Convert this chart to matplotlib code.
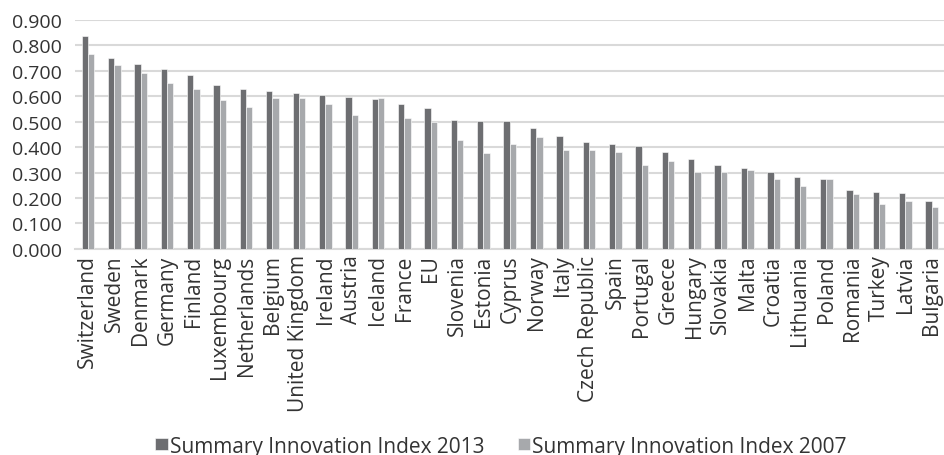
import numpy as np
import matplotlib.pyplot as plt

plt.rcParams['font.family'] = ['Open Sans', 'DejaVu Sans']

countries = ['Switzerland', 'Sweden', 'Denmark', 'Germany', 'Finland', 'Luxembourg',
             'Netherlands', 'Belgium', 'United Kingdom', 'Ireland', 'Austria', 'Iceland',
             'France', 'EU', 'Slovenia', 'Estonia', 'Cyprus', 'Norway', 'Italy',
             'Czech Republic', 'Spain', 'Portugal', 'Greece', 'Hungary', 'Slovakia',
             'Malta', 'Croatia', 'Lithuania', 'Poland', 'Romania', 'Turkey', 'Latvia',
             'Bulgaria']
sii_2013 = [0.837, 0.750, 0.725, 0.709, 0.684, 0.646, 0.629, 0.619, 0.613, 0.606, 0.599,
            0.588, 0.571, 0.554, 0.508, 0.502, 0.501, 0.477, 0.443, 0.422, 0.414, 0.406,
            0.380, 0.354, 0.328, 0.319, 0.302, 0.282, 0.275, 0.233, 0.225, 0.221, 0.188]
sii_2007 = [0.766, 0.723, 0.691, 0.654, 0.627, 0.585, 0.558, 0.594, 0.594, 0.568, 0.527,
            0.594, 0.516, 0.500, 0.428, 0.377, 0.413, 0.439, 0.387, 0.387, 0.379, 0.329,
            0.347, 0.302, 0.301, 0.311, 0.276, 0.249, 0.275, 0.215, 0.177, 0.187, 0.163]

fig = plt.figure(figsize=(9.45, 4.56), dpi=100)
ax = fig.add_axes([0.079, 0.452, 0.921, 0.502])

x = np.arange(len(countries))
w = 0.24
ax.bar(x - w / 2, sii_2013, w, color='#6d6e71', edgecolor='white', linewidth=0.4,
       label='Summary Innovation Index 2013', zorder=3)
ax.bar(x + w / 2, sii_2007, w, color='#a7a9ac', edgecolor='white', linewidth=0.4,
       label='Summary Innovation Index 2007', zorder=3)

ax.set_xlim(-0.5, len(countries) - 0.5)
ax.set_ylim(0, 0.9)
ax.set_yticks(np.arange(0, 0.91, 0.1))
ax.set_yticklabels([f'{v:.3f}' for v in np.arange(0, 0.91, 0.1)], fontsize=14, color='#333333')
ax.set_xticks(x)
ax.set_xticklabels(countries, rotation=90, fontsize=15, color='#333333')
ax.tick_params(axis='y', length=0, pad=9)
ax.tick_params(axis='x', length=0, pad=4)
ax.grid(axis='y', color='#d9d9d9', linewidth=1.5, zorder=0)
for s in ['top', 'right', 'left']:
    ax.spines[s].set_visible(False)
ax.spines['bottom'].set_color('#d9d9d9')
ax.spines['bottom'].set_linewidth(1.5)

fig.legend(loc='lower center', bbox_to_anchor=(0.53, -0.045), ncol=2, frameon=False,
           fontsize=15, handlelength=0.6, handleheight=0.5, handletextpad=0.1,
           columnspacing=1.6, labelcolor='#333333')

fig.savefig('out.png', dpi=100)
